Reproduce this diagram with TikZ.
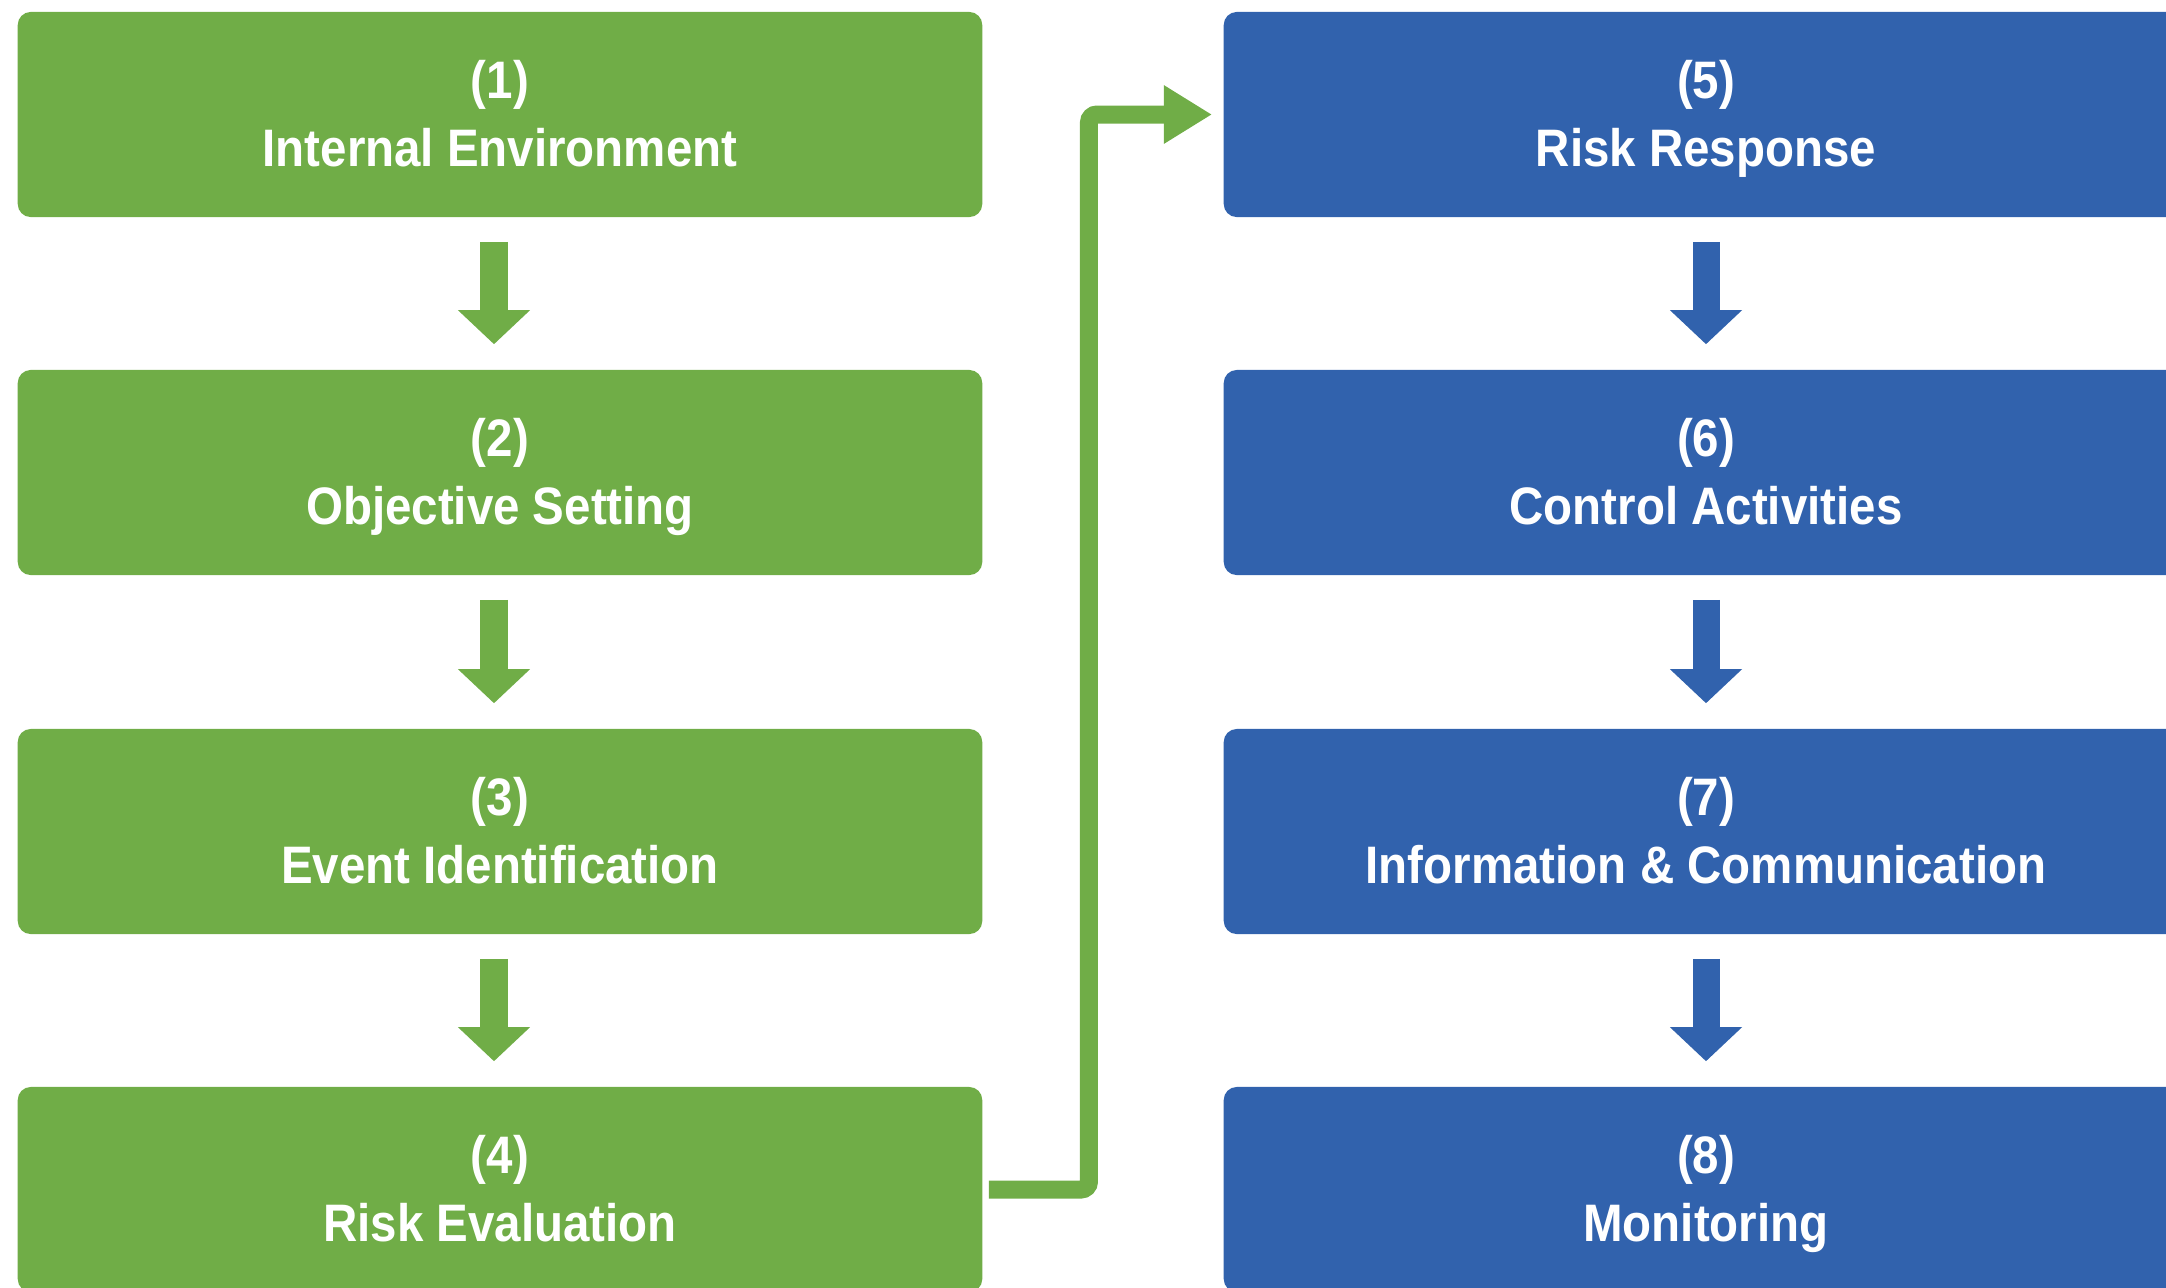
\documentclass[tikz,border=0pt]{standalone}
\usepackage{fontspec}
\setmainfont{Liberation Sans}[FakeStretch=0.9]
\usetikzlibrary{arrows.meta}

\definecolor{stepgreen}{RGB}{112,173,71}
\definecolor{stepblue}{RGB}{49,98,173}

% number on the first line, name on the second
\newcommand{\steptext}[2]{\rule{0pt}{0.57cm}(#1)\\#2\strut}

\tikzset{
  stagebox/.style={rounded corners=1.3mm, minimum width=9.64cm, minimum height=2.05cm,
    inner sep=0pt, text=white, align=center, font=\fontsize{15}{19.3}\selectfont\bfseries},
  greenbox/.style={stagebox, fill=stepgreen},
  bluebox/.style={stagebox, fill=stepblue},
  downarrow/.style={line width=0.27cm, -{Triangle[width=0.7cm,length=0.34cm]},
    shorten <=0.24cm, shorten >=0.25cm},
  jumpline/.style={stepgreen, line width=0.18cm, rounded corners=0.8mm,
    -{Triangle[width=0.55cm,length=0.48cm]}, shorten <=0.06cm, shorten >=0.11cm}
}

\begin{document}
\begin{tikzpicture}[x=0.01cm, y=-0.01cm]
	\useasboundingbox (0,0) rectangle (2166,1287);
	\clip (0,0) rectangle (2166,1287);
	
	% left column
	\node[greenbox] (g1) at (500,114.5) {\steptext{1}{Internal Environment}};
	\node[greenbox] (g2) at (500,472.5) {\steptext{2}{Objective Setting}};
	\node[greenbox] (g3) at (500,831.5) {\steptext{3}{Event Identification}};
	\node[greenbox] (g4) at (500,1189.5) {\steptext{4}{Risk Evaluation}};
	
	% right column
	\node[bluebox] (b5) at (1706,114.5) {\steptext{5}{Risk Response}};
	\node[bluebox] (b6) at (1706,472.5) {\steptext{6}{Control Activities}};
	\node[bluebox] (b7) at (1706,831.5) {\steptext{7}{Information \& Communication}};
	\node[bluebox] (b8) at (1706,1189.5) {\steptext{8}{Monitoring}};
	
	% arrows between the steps
	\foreach \a/\b in {g1/g2, g2/g3, g3/g4}
	\draw[downarrow, stepgreen] ([xshift=-0.06cm]\a.south) -- ([xshift=-0.06cm]\b.north);
	\foreach \a/\b in {b5/b6, b6/b7, b7/b8}
	\draw[downarrow, stepblue] (\a) -- (\b);
	
	% from step 4 up to step 5
	\draw[jumpline] (g4.east) -- ++(106,0) |- (b5.west);
\end{tikzpicture}
\end{document}
